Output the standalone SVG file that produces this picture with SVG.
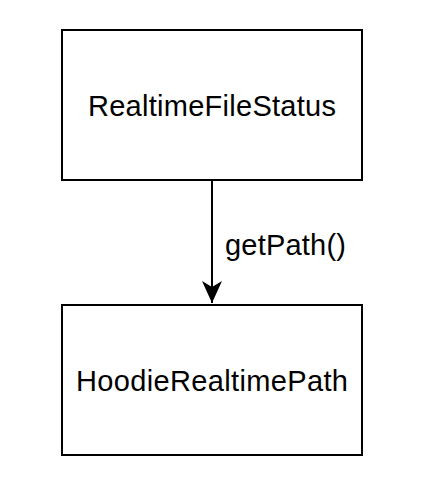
<svg xmlns="http://www.w3.org/2000/svg" width="424" height="500" viewBox="0 0 424 500">
<style>
.box{fill:#fff;stroke:#000;stroke-width:2}
.lbl{font-family:"Liberation Sans",Arial,sans-serif;font-size:29px;fill:#000}
.edge{stroke:#000;stroke-width:2;fill:none}
</style>
<defs>
<marker id="arr" markerUnits="userSpaceOnUse" markerWidth="24" markerHeight="24" viewBox="0 0 24 24" refX="22" refY="12" orient="auto">
<path d="M0,2 L22,12 L0,22 L6,12 Z" fill="#000"/>
</marker>
</defs>
<rect width="424" height="500" fill="#fff"/>
<g id="node-realtimefilestatus">
<rect class="box" x="62" y="30" width="300" height="150"/>
<text class="lbl" x="212" y="116" text-anchor="middle" textLength="248">RealtimeFileStatus</text>
</g>
<g id="node-hoodierealtimepath">
<rect class="box" x="62" y="305" width="300" height="150"/>
<text class="lbl" x="212" y="391" text-anchor="middle" textLength="272">HoodieRealtimePath</text>
</g>
<g id="connectors">
<path class="edge" d="M212,180 L212,303" marker-end="url(#arr)"/>
<text class="lbl" x="225" y="255" textLength="121">getPath()</text>
</g>
</svg>
